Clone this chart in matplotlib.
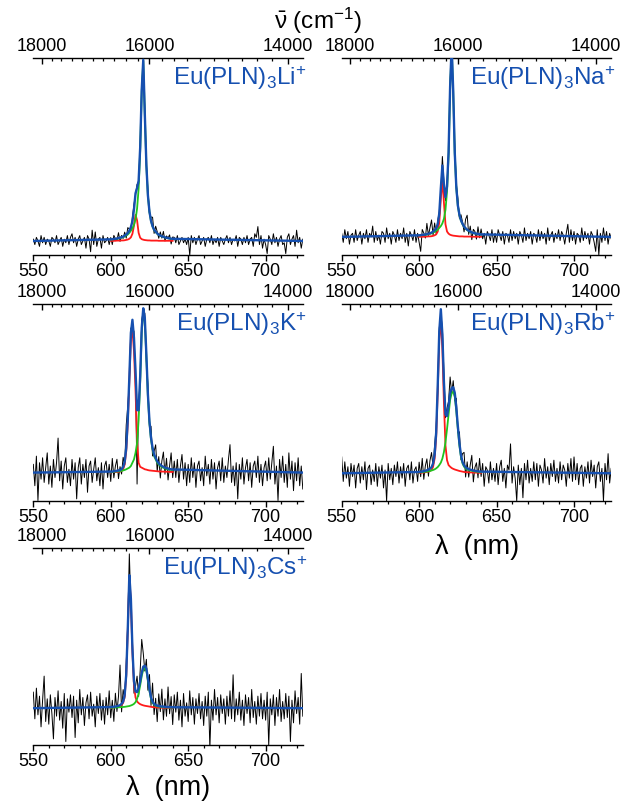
import numpy as np
import matplotlib
matplotlib.use('Agg')
from matplotlib import pyplot as plt

plt.rcParams['font.family'] = ['Liberation Sans', 'DejaVu Sans']
plt.rcParams['mathtext.fontset'] = 'custom'
plt.rcParams['mathtext.rm'] = 'Liberation Sans'
plt.rcParams['mathtext.it'] = 'Liberation Sans:italic'
plt.rcParams['mathtext.default'] = 'regular'

# wavelength sampling of the measured traces (nm) and of the fitted components
WL = np.arange(550, 725)
FIT_WL = np.arange(600, 641)

# residual of the measured trace around the fit, in 1/100 of the main peak
LI_RESID = [1, -2, 2, 0, -3, 3, -1, 2, -2, 1, 0, -3, 2, 1, -1, 3, -2, 0, 2, -3, 1, -1, 3, -2, 2,
            4, -1, 2, -3, 1, 3, -2, 0, 2, -4, 3, 1, -6, 6, -2, 5, -3, 1, 2, -4, 3, -1, 0, 2, -2,
            1, -3, 2, 0, -1, 3, -2, 1, -1, 2, -2, 3, 1, -2, 2, 3, -1, 2, -2, 1, 2, -1, 2, 0, 3,
            -1, 2, 5, -2, 3, 1, -2, 2, -1, 3, -2, 1, 0, 2, -3, 1, 2, -1, 3, -2, 0, 2, -1, 1, -2,
            2, -8, 3, -1, 2, -2, 1, 3, -2, 0, 2, -3, 1, 2, -1, 3, -2, 1, -1, 2, -3, 2, 0, -2, 1,
            3, -1, 2, -2, 1, 0, 3, -3, 2, 1, -2, 2, -1, 3, -2, 1, 2, -3, 4, 2, 8, -2, 3, -4, 1,
            -2, -7, 3, 1, -2, 4, -1, 2, -3, 1, 3, -2, -1, -7, 2, 4, -2, 1, 3, -3, 6, -1, 2, -4, 1]
NA_RESID = [2, -3, 4, -1, 3, -4, 1, 2, -3, 4, -2, 1, 3, -4, 2, -1, 4, -3, 2, 0, 6, -3, 3, -2, 1,
            -4, 3, 2, -3, 5, -1, 2, -4, 3, 1, -3, 4, -2, 2, -1, 5, -3, 2, -5, 3, 1, -2, 4, -3, 2,
            -4, -9, 3, 1, -2, 6, -1, 3, 7, -2, 4, -3, 2, 1, -2, 5, 1, -2, 2, -1, 2, 1, -2, 3, 2,
            4, -2, 3, 1, -3, 5, 8, -2, 3, -4, 2, 1, -3, 4, -2, 3, -1, 2, -4, 3, 1, -2, 4, -3, 2,
            -3, 4, 1, -2, 3, -4, 2, 1, -3, 4, -2, 3, -1, 2, -4, 3, 1, -3, 5, -2, 2, -1, 3, -4, 2,
            1, -3, 4, -2, 3, -1, 2, -4, 5, -2, 1, 3, -3, 2, -1, 4, -2, 3, 1, -4, 2, 7, -3, 4, -2,
            3, -4, 2, 1, -3, 5, -2, 3, -1, 2, -4, 3, 1, -3, -8, 4, -10, 2, -3, 5, -2, 3, -4, 2, -1]
K_RESID = [5, -8, 10, -17, 6, -4, 9, -6, 3, 12, -7, 4, -9, 8, -3, 6, 21, -5, 7, -10, 4, 9, -6, 2, -8,
           8, -4, 6, -16, 3, 9, -7, 5, -3, 8, -12, 4, 7, -6, 2, 9, -5, 3, -8, 6, -10, 4, 7, -3, 5,
           -6, 8, -4, 3, 7, -5, 2, -3, 6, -2, 14, 8, -4, 3, -5, 4, -6, -45, 4, -3, 5, -2, 3, -4, 6,
           -3, 7, -5, 2, 8, -6, 4, -8, 3, 9, -4, 6, -7, 2, 10, -5, 7, -3, 8, -6, 4, 11, -4, 6, -8,
           5, -6, 9, -3, 6, -9, 4, 7, -5, 3, -8, 10, -2, 5, -7, 8, -4, 6, -10, 3, 7, -5, 9, -6, 4,
           -3, 8, 17, -6, 4, -8, 6, -16, 5, -4, 9, -7, 3, 8, -5, 6, -9, 4, 7, -3, 10, -6, 5, -8, 3,
           7, -5, 9, -4, 6, 16, -7, 4, -17, 8, -3, 10, -6, 5, -9, 12, -4, 7, -11, 6, -5, 9, -8, 4, -10]
RB_RESID = [10, -5, 7, -3, 4, -8, 6, -2, 5, -9, 3, 6, -6, 4, -4, 7, -10, 3, 5, -7, 2, -5, 6, -8, 4,
            -3, 5, -9, 2, -17, 6, -4, 3, -7, 5, -2, 7, -6, 4, -3, 6, -8, 3, 5, -4, 7, -6, 2, 4, -5,
            6, -3, 8, -5, 3, 7, -4, 5, 9, -2, 6, 3, -4, 2, -3, 4, 6, -2, 5, 3, 10, -3, 4, -5, 6,
            -4, 7, -3, 5, 8, -6, 4, -5, 3, 9, -7, 2, 5, -4, 8, -3, 6, -8, 4, 2, -6, 7, -4, 3, -5,
            6, -7, 4, 8, -5, 3, -9, 5, 2, 18, -6, 4, -3, -17, 5, -7, 3, -15, 6, -4, 8, -6, 3, -5, 7,
            -4, 6, -8, 5, 2, -6, 9, -3, 4, -7, 6, -2, 8, -5, 3, -6, 7, -4, 5, 2, -8, 6, -3, 9, -5,
            10, -4, 6, -7, 3, 5, -8, 4, -3, 7, -6, 8, -2, 5, -9, 4, 7, -5, 3, -17, 6, -4, 12, -6, 3]
CS_RESID = [12, -8, 15, -5, 9, -14, 6, 24, -10, 7, -12, 10, -4, -23, 8, -6, 13, -9, 5, -15, 11, -25, 7, -3, 10,
            -7, 9, -22, 6, -11, 14, -5, 8, -13, 4, 10, -8, 12, -6, 3, -14, 9, -4, 11, -9, 6, -12, 8, -5, 13,
            -8, 5, -11, 10, -4, 7, 30, -6, 9, -3, 8, 5, 16, -5, 6, -9, 4, 12, -6, 8, 25, 10, -4, 7, -9,
            11, -6, 14, -8, 5, -12, 9, -4, 13, -10, 6, -7, 15, -5, 8, -13, 10, -3, 12, -9, 6, -14, 11, -6, 4,
            -10, 13, -5, 8, -12, 7, -4, 11, -8, 5, -13, 9, -6, 12, -30, 6, -9, 14, -5, 8, -11, 10, -4, 7, -12,
            9, -6, 13, -8, 25, -10, 7, -5, 12, -9, 6, -13, 10, -4, 8, -11, 14, -7, 5, -12, 9, -6, 11, -8, 6,
            -9, 12, -28, 7, -5, 10, -13, 8, -6, 14, -10, 5, -8, 11, -7, 9, -25, 6, -11, 13, -4, 8, -12, 26, -6]

# fitted components on FIT_WL (red: short-wavelength band, green: long-wavelength band)
LI_RED = [0.001, 0.001, 0.001, 0.001, 0.002, 0.002, 0.002, 0.003, 0.003, 0.004,
          0.006, 0.008, 0.012, 0.020, 0.040, 0.085, 0.145, 0.115, 0.045, 0.018,
          0.010, 0.007, 0.005, 0.004, 0.003, 0.003, 0.002, 0.002, 0.002, 0.002,
          0.002, 0.001, 0.001, 0.001, 0.001, 0.001, 0.001, 0.001, 0.001, 0.001, 0.001]
LI_GREEN = [0.008, 0.009, 0.010, 0.011, 0.012, 0.014, 0.016, 0.018, 0.021, 0.025,
            0.030, 0.036, 0.045, 0.057, 0.070, 0.090, 0.120, 0.180, 0.290, 0.500,
            0.830, 1.000, 0.700, 0.420, 0.250, 0.160, 0.110, 0.080, 0.060, 0.050,
            0.040, 0.034, 0.029, 0.025, 0.022, 0.019, 0.017, 0.015, 0.013, 0.012, 0.011]
NA_RED = [0.001, 0.001, 0.001, 0.001, 0.002, 0.002, 0.003, 0.003, 0.004, 0.006,
          0.009, 0.014, 0.030, 0.080, 0.210, 0.320, 0.190, 0.070, 0.030, 0.018,
          0.012, 0.009, 0.007, 0.006, 0.005, 0.004, 0.003, 0.003, 0.003, 0.002,
          0.002, 0.002, 0.002, 0.002, 0.001, 0.001, 0.001, 0.001, 0.001, 0.001, 0.001]
NA_GREEN = [0.008, 0.009, 0.010, 0.011, 0.012, 0.013, 0.015, 0.017, 0.020, 0.024,
            0.028, 0.034, 0.040, 0.050, 0.060, 0.075, 0.100, 0.150, 0.250, 0.450,
            0.820, 1.050, 0.800, 0.460, 0.270, 0.170, 0.120, 0.090, 0.070, 0.056,
            0.046, 0.038, 0.032, 0.028, 0.024, 0.021, 0.019, 0.017, 0.015, 0.014, 0.013]
K_RED = [0.002, 0.002, 0.003, 0.003, 0.004, 0.005, 0.007, 0.010, 0.020, 0.050,
         0.130, 0.300, 0.550, 0.810, 0.870, 0.740, 0.500, 0.200, 0.060, 0.035,
         0.030, 0.025, 0.020, 0.018, 0.015, 0.013, 0.012, 0.011, 0.010, 0.009,
         0.008, 0.007, 0.007, 0.006, 0.006, 0.005, 0.005, 0.005, 0.004, 0.004, 0.004]
K_GREEN = [0.004, 0.004, 0.005, 0.006, 0.007, 0.008, 0.009, 0.011, 0.013, 0.016,
           0.020, 0.025, 0.030, 0.040, 0.060, 0.080, 0.120, 0.180, 0.320, 0.550,
           0.850, 0.975, 0.920, 0.700, 0.460, 0.300, 0.200, 0.140, 0.100, 0.080,
           0.060, 0.050, 0.040, 0.034, 0.029, 0.025, 0.022, 0.020, 0.018, 0.016, 0.015]
RB_RED = [0.003, 0.003, 0.004, 0.005, 0.006, 0.008, 0.010, 0.014, 0.020, 0.040,
          0.090, 0.220, 0.500, 0.820, 0.940, 0.760, 0.430, 0.170, 0.080, 0.050,
          0.040, 0.032, 0.027, 0.023, 0.020, 0.017, 0.014, 0.012, 0.010, 0.008,
          0.007, 0.006, 0.006, 0.005, 0.005, 0.004, 0.004, 0.004, 0.003, 0.003, 0.003]
RB_GREEN = [0.005, 0.006, 0.007, 0.008, 0.009, 0.010, 0.012, 0.014, 0.017, 0.020,
            0.024, 0.030, 0.038, 0.050, 0.065, 0.090, 0.130, 0.190, 0.270, 0.360,
            0.450, 0.490, 0.500, 0.470, 0.380, 0.270, 0.170, 0.100, 0.060, 0.040,
            0.030, 0.024, 0.020, 0.017, 0.015, 0.013, 0.011, 0.010, 0.009, 0.008, 0.007]
CS_RED = [0.004, 0.005, 0.006, 0.007, 0.009, 0.012, 0.016, 0.024, 0.040, 0.090,
          0.240, 0.580, 0.980, 0.800, 0.420, 0.170, 0.080, 0.050, 0.038, 0.030,
          0.025, 0.021, 0.018, 0.016, 0.014, 0.012, 0.010, 0.008, 0.007, 0.006,
          0.005, 0.005, 0.004, 0.004, 0.004, 0.003, 0.003, 0.003, 0.003, 0.002, 0.002]
CS_GREEN = [0.004, 0.004, 0.005, 0.005, 0.006, 0.006, 0.007, 0.008, 0.009, 0.010,
            0.012, 0.014, 0.016, 0.020, 0.025, 0.032, 0.045, 0.070, 0.110, 0.170,
            0.240, 0.290, 0.300, 0.280, 0.210, 0.130, 0.070, 0.040, 0.025, 0.018,
            0.014, 0.012, 0.010, 0.009, 0.008, 0.007, 0.006, 0.006, 0.005, 0.005, 0.005]

LABELS = ['Eu(PLN)$_3$Li$^{+}$', 'Eu(PLN)$_3$Na$^{+}$', 'Eu(PLN)$_3$K$^{+}$',
          'Eu(PLN)$_3$Rb$^{+}$', 'Eu(PLN)$_3$Cs$^{+}$']
RESIDS = [LI_RESID, NA_RESID, K_RESID, RB_RESID, CS_RESID]
REDS = [LI_RED, NA_RED, K_RED, RB_RED, CS_RED]
GREENS = [LI_GREEN, NA_GREEN, K_GREEN, RB_GREEN, CS_GREEN]
YLIMS = [(-0.078, 1.017), (-0.10, 0.99), (-0.173, 1.026), (-0.17, 1.037), (-0.276, 1.20)]

WN_MAJOR = [18000, 16000, 14000]

BLUE = '#1650b0'
RED = '#ff1a1a'
GREEN = '#1fc41f'

W, H = 621, 802
# panel frames in pixels: (left, top)
FRAMES = [(33.3, 58), (341.7, 58), (33.3, 304), (341.7, 304), (33.3, 548)]
AX_W, AX_H = 269.5, 197


def nm_to_wn(x):
  x = np.asarray(x, dtype=float)
  with np.errstate(divide='ignore', invalid='ignore'):
    return 1e7 / x


fig = plt.figure(figsize=(W / 100, H / 100), dpi=100)

for i in range(5):
  assert len(RESIDS[i]) == len(WL), "bad residual length " + str(i)
  assert len(REDS[i]) == len(FIT_WL) and len(GREENS[i]) == len(FIT_WL)

  left, top = FRAMES[i]
  ax = fig.add_axes([left / W, 1 - (top + AX_H) / H, AX_W / W, AX_H / H])

  red = np.array(REDS[i])
  green = np.array(GREENS[i])
  fit = red + green

  measured = np.array(RESIDS[i], dtype=float) / 100
  measured[FIT_WL[0] - WL[0]:FIT_WL[-1] - WL[0] + 1] += fit

  ax.plot(WL, measured, color='black', linewidth=0.7, zorder=1)
  ax.plot(FIT_WL, red, color=RED, linewidth=1.3, zorder=2)
  ax.plot(FIT_WL, green, color=GREEN, linewidth=1.3, zorder=3)
  ax.plot(np.concatenate([[WL[0]], FIT_WL, [WL[-1]]]),
          np.concatenate([[0], fit, [0]]), color=BLUE, linewidth=1.7, zorder=4)

  ax.set_xlim(550, 724)
  ax.set_ylim(*YLIMS[i])

  for s in ['left', 'right', 'top']:
    ax.spines[s].set_visible(False)
  ax.spines['bottom'].set_linewidth(1.0)
  ax.set_yticks([])

  ax.set_xticks([550, 600, 650, 700])
  ax.set_xticks(np.arange(550, 725, 10), minor=True)
  ax.tick_params(axis='x', which='major', direction='out', length=4, width=1.0,
                 labelsize=13, pad=1.5)
  ax.tick_params(axis='x', which='minor', direction='out', length=2.5, width=0.9)

  top_ax = ax.secondary_xaxis('top', functions=(nm_to_wn, nm_to_wn))
  top_ax.set_xticks(WN_MAJOR)
  top_ax.set_xticklabels([str(v) for v in WN_MAJOR])
  top_ax.set_xticks(np.arange(14000, 18001, 200), minor=True)
  top_ax.spines['top'].set_linewidth(1.0)
  top_ax.tick_params(axis='x', which='major', direction='in', length=4, width=1.0,
                     labelsize=13, pad=2)
  top_ax.tick_params(axis='x', which='minor', direction='in', length=2.5, width=0.9)

  ax.text(1.015, 0.862, LABELS[i], transform=ax.transAxes, ha='right',
          va='baseline', color=BLUE, fontsize=17.5)

fig.text(318 / W, 1 - 21 / H, r'$\bar{\nu}$ (cm$^{-1}$)', ha='center', va='center',
         fontsize=17.5)
fig.text(477 / W, 1 - 547 / H, 'λ  (nm)', ha='center', va='center', fontsize=19.5)
fig.text(168 / W, 1 - 788 / H, 'λ  (nm)', ha='center', va='center', fontsize=19.5)

fig.savefig('out.png', dpi=100)
